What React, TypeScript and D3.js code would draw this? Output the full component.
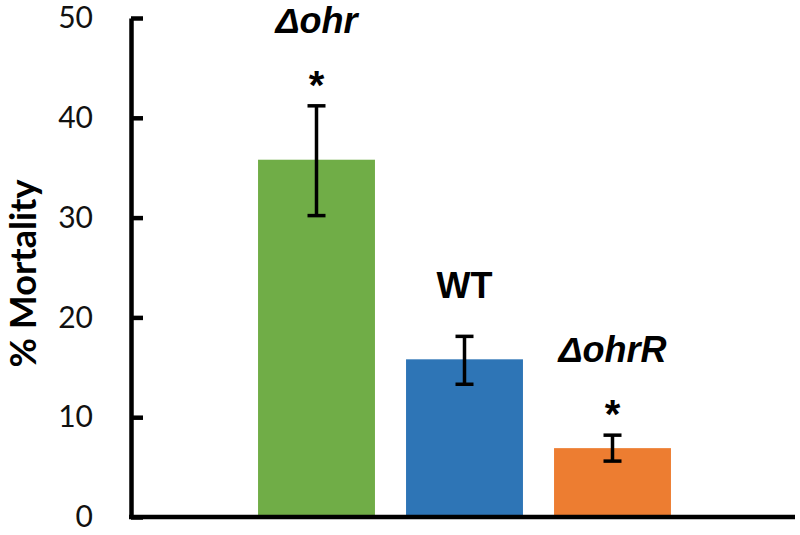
// App.tsx
// Bar chart of % mortality per strain, with error bars and significance marks
import React, { useEffect, useRef } from "react";
import * as d3 from "d3";

const categories = ["Δohr", "WT", "ΔohrR"];
const means = [35.8, 15.8, 6.9];
const errLow = [30.2, 13.3, 5.6];
const errHigh = [41.2, 18.1, 8.2];
const significant = [true, false, true];
const italicLabel = [true, false, true];
const barColors = ["#70AD47", "#2E75B6", "#ED7D31"];
const yTicks = [0, 10, 20, 30, 40, 50];

export default function App() {
  const svgRef = useRef<SVGSVGElement>(null);

  useEffect(() => {
    if (!svgRef.current) return;
    const svg = d3.select(svgRef.current);
    svg.selectAll("*").remove();

    const axisX = 131, axisRight = 795;
    const y = d3.scaleLinear().domain([0, 50]).range([517, 18]);
    const x = d3.scaleBand<string>()
      .domain(categories)
      .range([242.5, 686.5])
      .paddingInner(0.21)
      .paddingOuter(0.105);

    // y axis, ticks pointing inward
    const yAxis = svg.append("g")
      .attr("transform", `translate(${axisX},0)`)
      .call(d3.axisLeft(y).tickValues(yTicks).tickSize(-12).tickSizeOuter(0).tickPadding(38));
    yAxis.select(".domain").attr("stroke", "#000").attr("stroke-width", 4.5);
    yAxis.selectAll(".tick line").attr("stroke", "#000").attr("stroke-width", 4.5);
    yAxis.selectAll(".tick text")
      .attr("fill", "#111")
      .style("font-family", "Lato, 'Open Sans', sans-serif")
      .style("font-size", "30px");

    // bars
    svg.selectAll("rect.bar")
      .data(categories)
      .enter()
      .append("rect")
      .attr("class", "bar")
      .attr("x", (d) => x(d)!)
      .attr("y", (_d, i) => y(means[i]))
      .attr("width", x.bandwidth())
      .attr("height", (_d, i) => y(0) - y(means[i]))
      .attr("fill", (_d, i) => barColors[i]);

    // x axis line
    svg.append("line")
      .attr("x1", axisX - 2).attr("x2", axisRight)
      .attr("y1", y(0)).attr("y2", y(0))
      .attr("stroke", "#000").attr("stroke-width", 4.5);

    // error bars
    categories.forEach((c, i) => {
      const cx = x(c)! + x.bandwidth() / 2;
      const g = svg.append("g").attr("stroke", "#000").attr("stroke-width", 3.5);
      g.append("line").attr("x1", cx).attr("x2", cx).attr("y1", y(errLow[i])).attr("y2", y(errHigh[i]));
      g.append("line").attr("x1", cx - 9).attr("x2", cx + 9).attr("y1", y(errLow[i])).attr("y2", y(errLow[i]));
      g.append("line").attr("x1", cx - 9).attr("x2", cx + 9).attr("y1", y(errHigh[i])).attr("y2", y(errHigh[i]));

      const top = y(errHigh[i]);
      if (significant[i]) {
        svg.append("text")
          .attr("x", cx).attr("y", top - 29 + 22)
          .attr("text-anchor", "middle")
          .style("font-family", "'Liberation Sans', Arial, sans-serif")
          .style("font-weight", "bold")
          .style("font-size", "40px")
          .text("*");
      }
      svg.append("text")
        .attr("x", cx)
        .attr("y", significant[i] ? top - 73 : top - 38)
        .attr("text-anchor", "middle")
        .style("font-family", "'Liberation Sans', Arial, sans-serif")
        .style("font-weight", "bold")
        .style("font-style", italicLabel[i] ? "italic" : "normal")
        .style("font-size", "36px")
        .text(c);
    });

    // y axis title
    svg.append("text")
      .attr("transform", `translate(36,${(y(0) + y(50)) / 2 + 6}) rotate(-90)`)
      .attr("text-anchor", "middle")
      .style("font-family", "Lato, 'Open Sans', sans-serif")
      .style("font-weight", "bold")
      .style("font-size", "36px")
      .text("% Mortality");
  }, []);

  return (
    <svg
      ref={svgRef}
      width={800}
      height={535}
      style={{ position: "absolute", left: 0, top: 0, background: "#fff" }}
    />
  );
}
